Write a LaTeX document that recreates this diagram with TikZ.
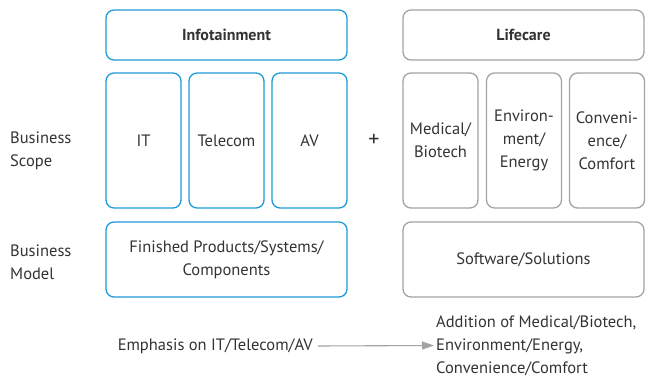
\documentclass[tikz,border=0pt]{standalone}
\usepackage{fontspec}
\setmainfont{PT Sans}
\usetikzlibrary{arrows.meta}
\definecolor{bblue}{HTML}{1E9BD7}
\definecolor{bgray}{HTML}{A3A3A3}
\definecolor{txt}{HTML}{333333}
\tikzset{
  box/.style={draw, rounded corners=8pt, line width=1.3pt, inner sep=0pt, align=center, text=txt, font=\fontsize{16.5}{23}\selectfont},
  bluebox/.style={box, draw=bblue},
  graybox/.style={box, draw=bgray},
  label/.style={text=txt, font=\fontsize{16.5}{23}\selectfont, align=left, inner sep=2pt},
}
\begin{document}
\begin{tikzpicture}[x=1pt,y=-1pt]
\useasboundingbox (0,0) rectangle (649,380);
% top headers
\node[bluebox, minimum width=241pt, minimum height=50pt, font=\fontsize{16}{18}\selectfont\bfseries] (info) at (226.5,35) {Infotainment};
\node[graybox, minimum width=241pt, minimum height=50pt, font=\fontsize{16}{18}\selectfont\bfseries] (life) at (523.5,35) {Lifecare};
% scope boxes
\node[bluebox, minimum width=75pt, minimum height=135pt] (it) at (143.5,140.5) {IT};
\node[bluebox, minimum width=75pt, minimum height=135pt] (tel) at (226.5,140.5) {Telecom};
\node[bluebox, minimum width=75pt, minimum height=135pt] (av) at (309.5,140.5) {AV};
\node[graybox, minimum width=75pt, minimum height=135pt] (med) at (440.5,140.5) {Medical/\\Biotech};
\node[graybox, minimum width=75pt, minimum height=135pt] (env) at (524,140.5) {Environ-\\ment/\\Energy};
\node[graybox, minimum width=75pt, minimum height=135pt] (conv) at (607,140.5) {Conveni-\\ence/\\Comfort};
\node[text=txt, font=\fontsize{22}{22}\selectfont] (plus) at (374,140) {+};
% model boxes
\node[bluebox, minimum width=241pt, minimum height=75pt] (fin) at (226.5,259.5) {Finished Products/Systems/\\Components};
\node[graybox, minimum width=241pt, minimum height=75pt] (soft) at (523.5,259.5) {Software/Solutions};
% row labels
\node[label, anchor=west] (scope) at (8,151) {Business\\Scope};
\node[label, anchor=west] (model) at (8,262) {Business\\Model};
% bottom
\node[label, anchor=east] (emph) at (315,346) {Emphasis on IT/Telecom/AV};
\node[label, anchor=west] (add) at (434,345.5) {Addition of Medical/Biotech,\\Environment/Energy,\\Convenience/Comfort};
\draw[bgray, line width=1.1pt, -{Triangle[length=12pt,width=8pt]}] (emph.east) ++(3,0) -- (add.west);
\end{tikzpicture}
\end{document}
